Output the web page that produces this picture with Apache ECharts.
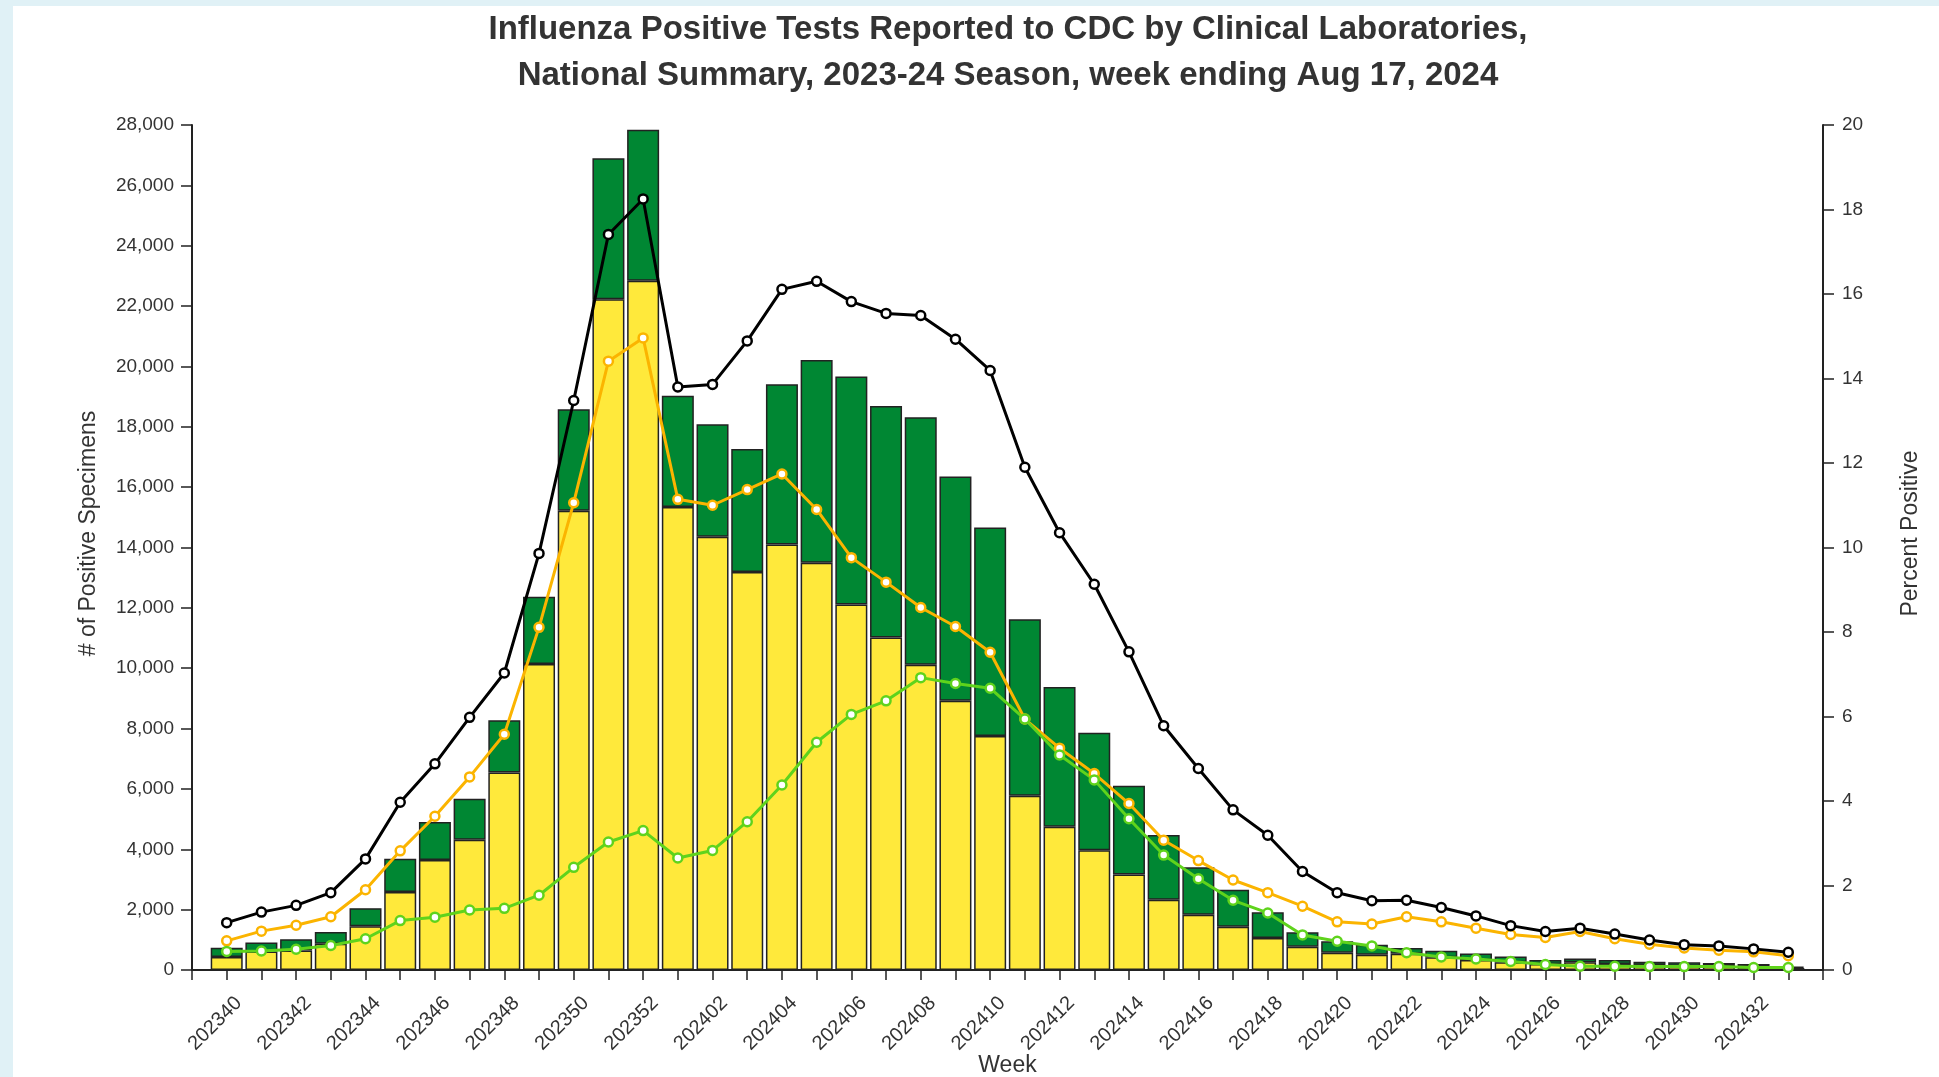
<!DOCTYPE html>
<html>
<head>
  <meta charset="UTF-8">
  <title>Influenza Positive Tests</title>
  <script src="https://cdn.jsdelivr.net/npm/echarts@6/dist/echarts.min.js"></script>
  <style>
    html, body { margin: 0; padding: 0; background: #e0f1f6; overflow: hidden; }
    #panel { position: absolute; left: 13px; top: 6px; right: 0; bottom: 0; background: #fff; }
    #chart { position: absolute; left: 0; top: 0; width: 1939px; height: 1077px; }
  </style>
</head>
<body>
  <div id="panel"></div>
  <div id="chart"></div>
  <script>
    // MMWR weeks, 2023-24 season
    const weeks = [
      '202340','202341','202342','202343','202344','202345','202346','202347','202348','202349',
      '202350','202351','202352',
      '202401','202402','202403','202404','202405','202406','202407','202408','202409','202410',
      '202411','202412','202413','202414','202415','202416','202417','202418','202419','202420',
      '202421','202422','202423','202424','202425','202426','202427','202428','202429','202430',
      '202431','202432','202433'
    ];

    // positive specimens (stacked bars)
    const fluA = [
      430, 610, 650, 870, 1450, 2585, 3646, 4315, 6547, 10137,
      15215, 22227, 22841,
      15345, 14360, 13186, 14102, 13491, 12108, 11015, 10114, 8924, 7751,
      5773, 4744, 3972, 3168, 2327, 1834, 1437, 1061, 774, 575,
      508, 540, 420, 330, 254, 199, 254, 199, 166, 144,
      133, 110, 66
    ];
    const fluB = [
      310, 300, 370, 390, 600, 1100, 1260, 1360, 1730, 2230,
      3370, 4670, 5000,
      3680, 3720, 4080, 5310, 6720, 7560, 7670, 8200, 7430, 6910,
      5850, 4630, 3890, 2940, 2150, 1570, 1220, 850, 475, 375,
      330, 190, 220, 220, 190, 130, 130, 130, 110, 110,
      100, 90, 45
    ];

    // percent positive (lines)
    const pctTotal = [
      1.12, 1.37, 1.53, 1.83, 2.63, 3.97, 4.88, 5.98, 7.03, 9.86,
      13.48, 17.41, 18.25,
      13.80, 13.86, 14.89, 16.11, 16.30, 15.82, 15.54, 15.49, 14.93, 14.19,
      11.90, 10.35, 9.13, 7.53, 5.78, 4.77, 3.79, 3.19, 2.33, 1.83,
      1.64, 1.65, 1.48, 1.28, 1.05, 0.91, 0.99, 0.85, 0.71, 0.60,
      0.57, 0.50, 0.42
    ];
    const pctA = [
      0.69, 0.92, 1.06, 1.26, 1.90, 2.82, 3.64, 4.57, 5.58, 8.11,
      11.06, 14.41, 14.96,
      11.14, 11.00, 11.37, 11.74, 10.90, 9.76, 9.18, 8.58, 8.13, 7.52,
      5.94, 5.25, 4.65, 3.94, 3.07, 2.59, 2.13, 1.83, 1.51, 1.14,
      1.09, 1.26, 1.14, 0.99, 0.84, 0.77, 0.91, 0.74, 0.61, 0.52,
      0.47, 0.43, 0.34
    ];
    const pctB = [
      0.44, 0.45, 0.49, 0.58, 0.74, 1.17, 1.25, 1.42, 1.46, 1.77,
      2.43, 3.03, 3.30,
      2.65, 2.83, 3.51, 4.38, 5.39, 6.05, 6.37, 6.92, 6.78, 6.67,
      5.94, 5.09, 4.50, 3.58, 2.72, 2.16, 1.65, 1.35, 0.83, 0.68,
      0.57, 0.41, 0.31, 0.26, 0.20, 0.13, 0.09, 0.09, 0.08, 0.08,
      0.08, 0.06, 0.06
    ];

    const FONT = 'Liberation Sans, Arial, sans-serif';
    const TXT = '#333';

    // one empty slot on each side, like the original axis
    const pad = arr => [null].concat(arr, [null]);
    const cats = [''].concat(weeks, ['']);

    function lineSeries(name, data, color) {
      return {
        name: name,
        type: 'line',
        yAxisIndex: 1,
        data: pad(data),
        symbol: 'circle',
        symbolSize: 9,
        lineStyle: { color: color, width: 3 },
        itemStyle: { color: '#fff', borderColor: color, borderWidth: 2.5 },
        z: 5
      };
    }

    const chart = echarts.init(document.getElementById('chart'));
    chart.setOption({
      animation: false,
      title: {
        text: 'Influenza Positive Tests Reported to CDC by Clinical Laboratories,\nNational Summary, 2023-24 Season, week ending Aug 17, 2024',
        left: 1008,
        top: 7,
        padding: 0,
        textAlign: 'center',
        textStyle: { fontFamily: FONT, fontSize: 33, fontWeight: 'bold', color: TXT, lineHeight: 46 }
      },
      grid: { left: 192, right: 116, top: 125, bottom: 107, containLabel: false, outerBoundsMode: 'none' },
      xAxis: {
        type: 'category',
        data: cats,
        boundaryGap: false,
        name: 'Week',
        nameLocation: 'middle',
        nameGap: 84,
        nameMoveOverlap: false,
        nameTextStyle: { fontFamily: FONT, fontSize: 23, color: TXT },
        axisLine: { lineStyle: { color: '#222', width: 2 } },
        axisTick: { interval: 0, length: 10, lineStyle: { color: '#222', width: 1.5 } },
        axisLabel: {
          interval: (i) => i % 2 === 1 && i < cats.length - 2,
          rotate: 45,
          margin: 18,
          verticalAlign: 'top',
          lineHeight: 34,
          fontFamily: FONT, fontSize: 20, color: TXT
        },
        splitLine: { show: false }
      },
      yAxis: [
        {
          type: 'value',
          min: 0, max: 28000, interval: 2000,
          name: '# of Positive Specimens',
          nameLocation: 'middle',
          nameGap: 92,
          nameMoveOverlap: false,
          nameTextStyle: { fontFamily: FONT, fontSize: 23, color: TXT, padding: [0, 0, 0, 28] },
          axisLine: { show: true, lineStyle: { color: '#222', width: 2 } },
          axisTick: { show: true, length: 11, lineStyle: { color: '#222', width: 1.5 } },
          axisLabel: {
            margin: 18,
            formatter: v => v.toLocaleString('en-US'),
            fontFamily: FONT, fontSize: 19, color: TXT
          },
          splitLine: { show: false }
        },
        {
          type: 'value',
          position: 'right',
          min: 0, max: 20, interval: 2,
          name: 'Percent Positive',
          nameLocation: 'middle',
          nameGap: 76,
          nameMoveOverlap: false,
          nameTextStyle: { fontFamily: FONT, fontSize: 23, color: TXT, padding: [0, 0, 0, 28] },
          axisLine: { show: true, lineStyle: { color: '#222', width: 2 } },
          axisTick: { show: true, length: 11, lineStyle: { color: '#222', width: 1.5 } },
          axisLabel: { margin: 19, fontFamily: FONT, fontSize: 19, color: TXT },
          splitLine: { show: false }
        }
      ],
      series: [
        {
          name: 'Influenza A',
          type: 'bar',
          stack: 'count',
          data: pad(fluA),
          barWidth: 32,
          itemStyle: { color: '#ffe93b', borderColor: '#222', borderWidth: 1.5 }
        },
        {
          name: 'Influenza B',
          type: 'bar',
          stack: 'count',
          data: pad(fluB),
          barWidth: 32,
          itemStyle: { color: '#008733', borderColor: '#222', borderWidth: 1.5 }
        },
        lineSeries('Percent Positive Flu A', pctA, '#fbb400'),
        lineSeries('Percent Positive Flu B', pctB, '#5fd31c'),
        lineSeries('Total Percent Positive', pctTotal, '#000000')
      ]
    });
  </script>
</body>
</html>
